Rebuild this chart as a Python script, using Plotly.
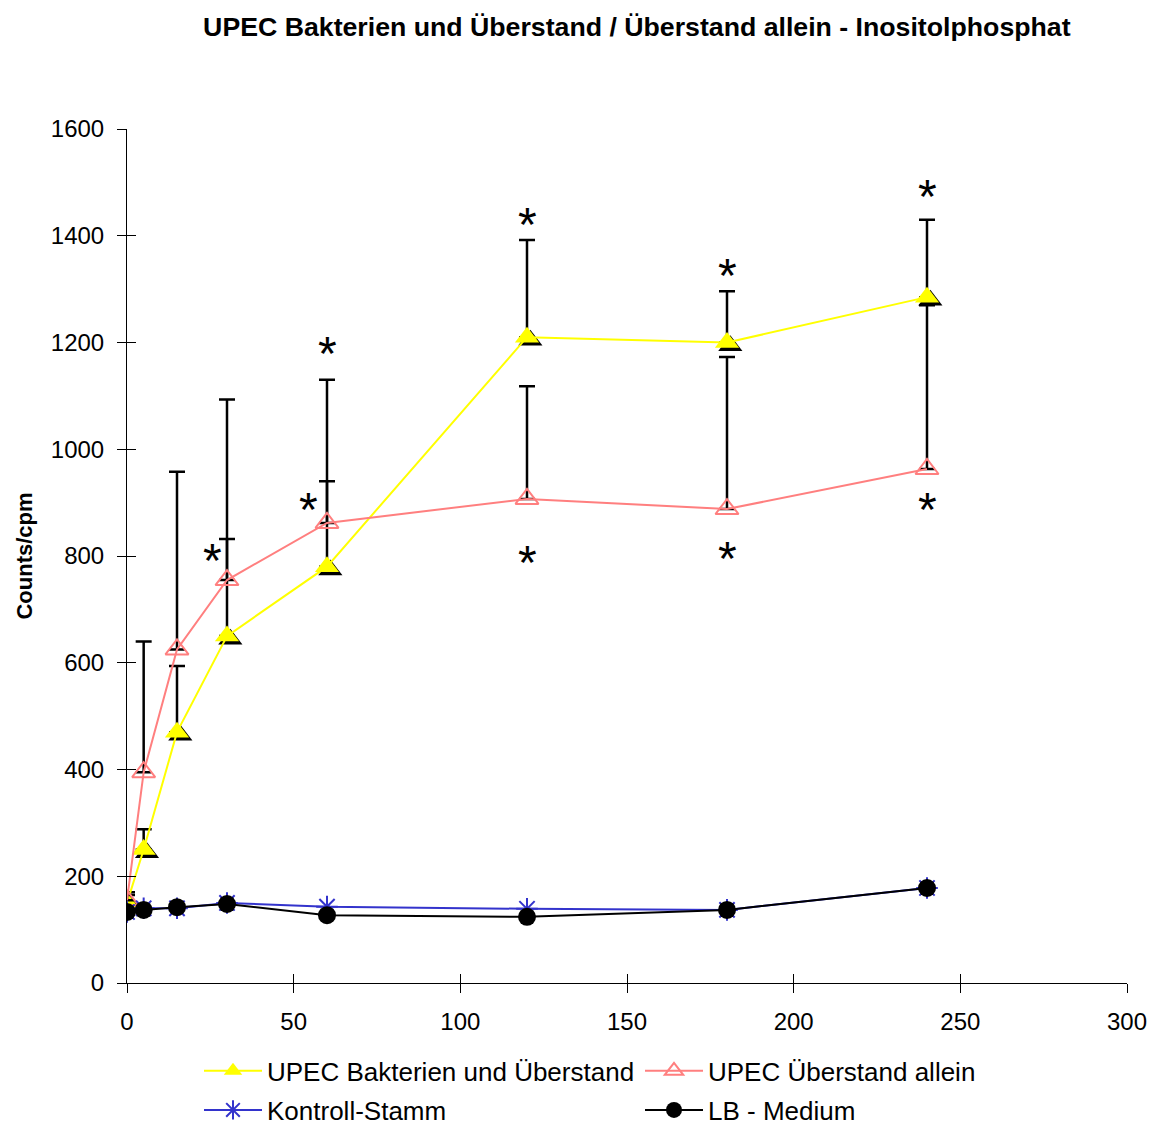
import plotly.graph_objects as go

# ---- data ----
time_min = [0, 5, 15, 30, 60, 120, 180, 240]

upec_bakt = [150, 250, 470, 650, 780, 1210, 1200, 1285]
upec_bakt_err = [20, 38, 124, 182, 160, 182, 96, 145]

upec_ueber = [155, 395, 625, 755, 862, 907, 888, 963]
upec_ueber_err = [10, 245, 333, 338, 268, 211, 285, 307]

kontroll = [133, 140, 140, 150, 143, 139, 137, 178]
lb_medium = [133, 137, 142, 148, 127, 124, 137, 178]

star_x = [25.5, 54.5, 60, 120, 120, 180, 180, 240, 240]
star_y = [802, 899, 1190, 1433, 800, 1336, 806, 1484, 899]

x_ticks = [0, 50, 100, 150, 200, 250, 300]
y_ticks = [0, 200, 400, 600, 800, 1000, 1200, 1400, 1600]

names = ["UPEC Bakterien und Überstand", "UPEC Überstand allein", "Kontroll-Stamm", "LB - Medium"]

FONT = "Liberation Sans, Arial, sans-serif"

fig = go.Figure()

# shadow for yellow triangles
fig.add_trace(go.Scatter(
    x=[t + 1.0 for t in time_min], y=[v - 6 for v in upec_bakt],
    mode="markers", marker=dict(symbol="triangle-up", size=21, color="black"),
    showlegend=False, hoverinfo="skip"))

fig.add_trace(go.Scatter(
    x=time_min, y=upec_bakt, name=names[0], mode="lines+markers", legend="legend",
    line=dict(color="#FFFF00", width=2),
    marker=dict(symbol="triangle-up", size=21, color="#FFFF00"),
    error_y=dict(type="data", array=upec_bakt_err, arrayminus=[0]*8, symmetric=False,
                 color="black", thickness=2.5, width=8)))

fig.add_trace(go.Scatter(
    x=time_min, y=upec_ueber, name=names[1], mode="lines+markers", legend="legend2",
    line=dict(color="#FF7F7F", width=2),
    marker=dict(symbol="triangle-up-open", size=20, color="#FF7F7F", line=dict(width=2, color="#FF7F7F")),
    error_y=dict(type="data", array=upec_ueber_err, arrayminus=[0]*8, symmetric=False,
                 color="black", thickness=2.5, width=8)))

fig.add_trace(go.Scatter(
    x=time_min, y=kontroll, name=names[2], mode="lines+markers", legend="legend3",
    line=dict(color="#3333CC", width=2),
    marker=dict(symbol="asterisk-open", size=18, color="#3333CC", line=dict(width=2, color="#3333CC"))))

fig.add_trace(go.Scatter(
    x=time_min, y=lb_medium, name=names[3], mode="lines+markers", legend="legend4",
    line=dict(color="black", width=2),
    marker=dict(symbol="circle", size=18, color="black")))

# invisible trace on overlay axes (for inner half of crossing ticks)
fig.add_trace(go.Scatter(x=[None], y=[None], xaxis="x2", yaxis="y2", showlegend=False,
                         hoverinfo="skip"))

for sx, sy in zip(star_x, star_y):
    fig.add_annotation(x=sx, y=sy, text="*", showarrow=False, xref="x", yref="y",
                       font=dict(family=FONT, size=48, color="black"), yshift=-6)

legend_common = dict(orientation="h", xanchor="left", yanchor="middle", itemwidth=58,
                     font=dict(family=FONT, size=26, color="black"),
                     bgcolor="rgba(0,0,0,0)")

col1, col2 = 0.072, 0.513
row1, row2 = -0.1030, -0.1487

fig.update_layout(
    width=1160, height=1128,
    paper_bgcolor="white", plot_bgcolor="white",
    margin=dict(l=127, r=33, t=129, b=145, autoexpand=False),
    font=dict(family=FONT, color="black"),
    title=dict(text="<b>UPEC Bakterien und Überstand / Überstand allein - Inositolphosphat</b>",
               x=0.549, xanchor="center", y=0.976, yanchor="middle",
               font=dict(family=FONT, size=26.7, color="black")),
    legend=dict(x=col1, y=row1, **legend_common),
    legend2=dict(x=col2, y=row1, **legend_common),
    legend3=dict(x=col1, y=row2, **legend_common),
    legend4=dict(x=col2, y=row2, **legend_common),
    showlegend=True,
)

axis_common = dict(showline=True, linecolor="black", linewidth=1, showgrid=False, zeroline=False,
                   ticks="outside", ticklen=9, tickcolor="black", tickwidth=1,
                   ticklabelstandoff=8,
                   tickfont=dict(family=FONT, size=24, color="black"))

fig.update_layout(
    xaxis=dict(range=[0, 300], tickvals=x_ticks, **axis_common),
    yaxis=dict(range=[0, 1600], tickvals=y_ticks, **axis_common,
               title=dict(text="<b>Counts/cpm</b>", font=dict(family=FONT, size=22, color="black"),
                          standoff=12)),
    xaxis2=dict(range=[0, 300], tickvals=x_ticks, overlaying="x", anchor="y2", side="bottom",
                ticks="inside", ticklen=9, tickcolor="black", tickwidth=1, showticklabels=False,
                showline=False, showgrid=False, zeroline=False),
    yaxis2=dict(range=[0, 1600], tickvals=y_ticks, overlaying="y", anchor="x2", side="left",
                ticks="inside", ticklen=9, tickcolor="black", tickwidth=1, showticklabels=False,
                showline=False, showgrid=False, zeroline=False),
)

fig.write_html("out.html")
